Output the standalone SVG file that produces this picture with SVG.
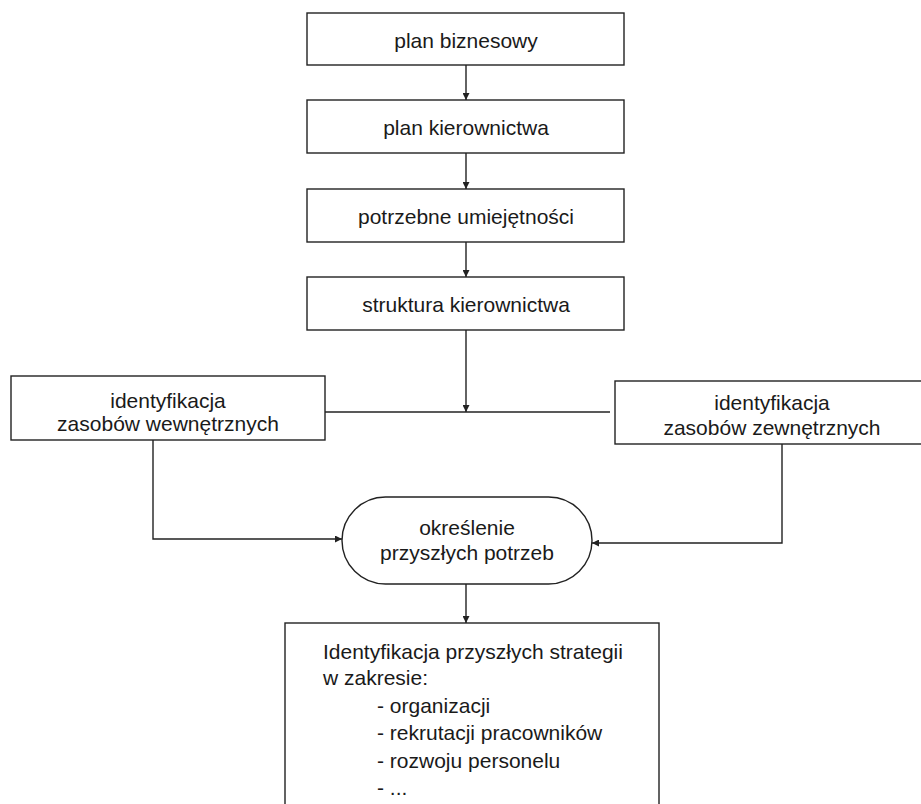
<svg xmlns="http://www.w3.org/2000/svg" width="921" height="804" viewBox="0 0 921 804">
  <style>
    .box { fill: #fff; stroke: #222; stroke-width: 1.4; }
    .lbl { font-family: "Liberation Sans", Arial, sans-serif; font-size: 21px; fill: #1a1a1a; }
    .mid { text-anchor: middle; }
    .wire { fill: none; stroke: #222; stroke-width: 1.4; }
  </style>
  <defs>
    <marker id="arrow" viewBox="0 0 10 10" refX="10" refY="5" markerWidth="8" markerHeight="7" markerUnits="userSpaceOnUse" orient="auto">
      <path d="M0,0 L10,5 L0,10 z" fill="#222"/>
    </marker>
  </defs>
  <rect width="921" height="804" fill="#fff"/>

  <g id="plan-biznesowy">
    <rect class="box" x="307" y="13" width="317" height="52"/>
    <text class="lbl mid" x="466" y="48">plan biznesowy</text>
  </g>
  <g id="plan-kierownictwa">
    <rect class="box" x="307" y="100" width="317" height="53"/>
    <text class="lbl mid" x="466" y="135">plan kierownictwa</text>
  </g>
  <g id="potrzebne-umiejetnosci">
    <rect class="box" x="307" y="189" width="317" height="53"/>
    <text class="lbl mid" x="466" y="224">potrzebne umiejętności</text>
  </g>
  <g id="struktura-kierownictwa">
    <rect class="box" x="307" y="277" width="317" height="53"/>
    <text class="lbl mid" x="466" y="312">struktura kierownictwa</text>
  </g>
  <g id="zasoby-wewnetrzne">
    <rect class="box" x="11" y="376" width="314" height="64"/>
    <text class="lbl mid" x="168" y="408">identyfikacja</text>
    <text class="lbl mid" x="168" y="431">zasobów wewnętrznych</text>
  </g>
  <g id="zasoby-zewnetrzne">
    <rect class="box" x="615" y="381" width="310" height="63"/>
    <text class="lbl mid" x="772" y="410">identyfikacja</text>
    <text class="lbl mid" x="772" y="435">zasobów zewnętrznych</text>
  </g>
  <g id="okreslenie-potrzeb">
    <rect class="box" x="342" y="497" width="250" height="87" rx="43.5" ry="43.5"/>
    <text class="lbl mid" x="467" y="535">określenie</text>
    <text class="lbl mid" x="467" y="560">przyszłych potrzeb</text>
  </g>
  <g id="strategie">
    <rect class="box" x="285" y="623" width="374" height="200"/>
    <text class="lbl" x="323" y="659">Identyfikacja przyszłych strategii</text>
    <text class="lbl" x="323" y="685">w zakresie:</text>
    <text class="lbl" x="377" y="713">- organizacji</text>
    <text class="lbl" x="377" y="740">- rekrutacji pracowników</text>
    <text class="lbl" x="377" y="768">- rozwoju personelu</text>
    <text class="lbl" x="377" y="795">- ...</text>
  </g>

  <g id="connectors">
    <line class="wire" x1="466" y1="65" x2="466" y2="100" marker-end="url(#arrow)"/>
    <line class="wire" x1="466" y1="153" x2="466" y2="189" marker-end="url(#arrow)"/>
    <line class="wire" x1="466" y1="242" x2="466" y2="277" marker-end="url(#arrow)"/>
    <line class="wire" x1="466" y1="330" x2="466" y2="412" marker-end="url(#arrow)"/>
    <line class="wire" x1="325" y1="412" x2="610" y2="412"/>
    <polyline class="wire" points="153,440 153,539 342,539" marker-end="url(#arrow)"/>
    <polyline class="wire" points="782,444 782,543 592,543" marker-end="url(#arrow)"/>
    <line class="wire" x1="466" y1="584" x2="466" y2="623" marker-end="url(#arrow)"/>
  </g>
</svg>
